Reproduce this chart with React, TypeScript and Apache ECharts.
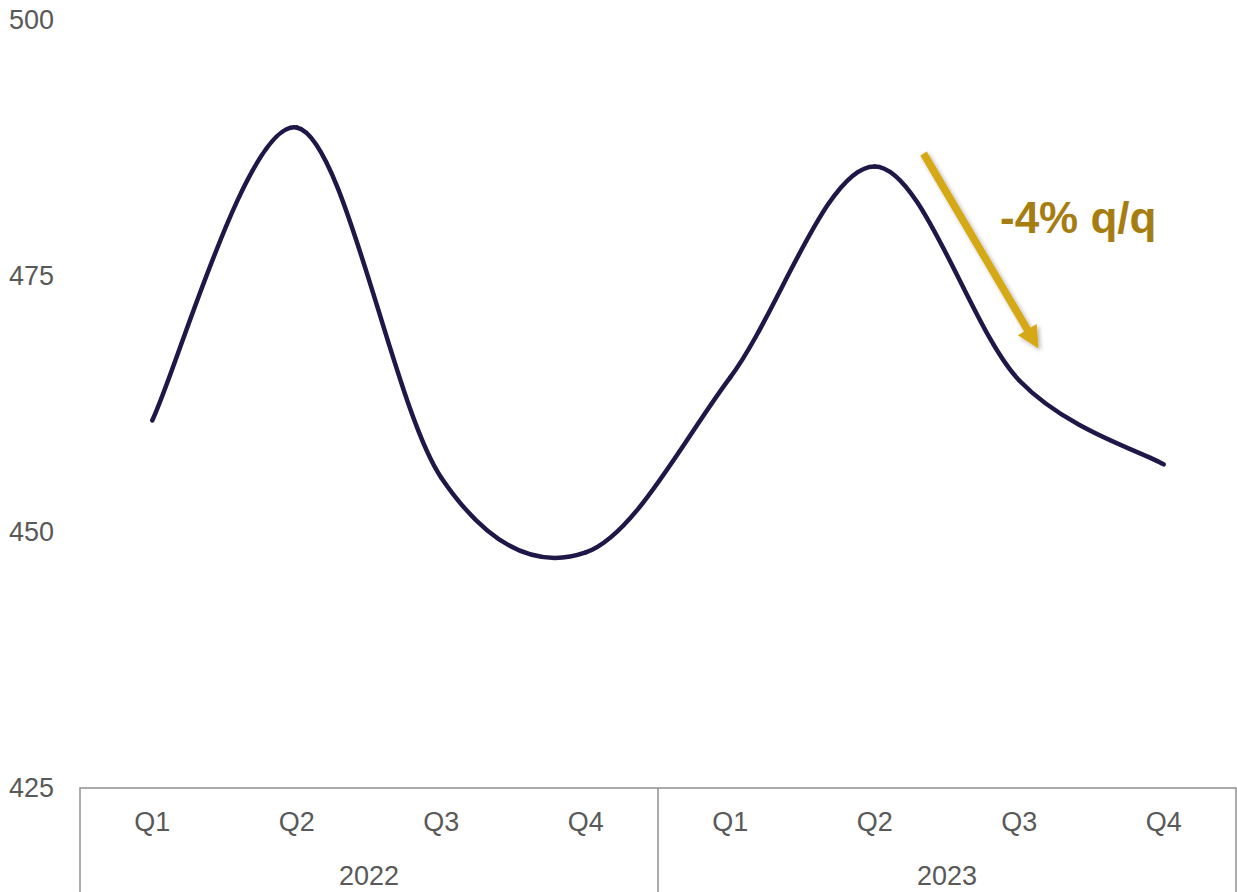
import React, { useEffect, useRef } from "react";
import * as echarts from "echarts";

// Quarterly values, two years
const quarters = ["Q1", "Q2", "Q3", "Q4", "Q1", "Q2", "Q3", "Q4"];
const years = ["2022", "2023"];
const values = [460.9, 489.5, 455.3, 448.0, 465.1, 485.7, 464.8, 456.6];

// Value axis range
const yMin = 425;
const yMax = 500;
const yStep = 25;

// Annotation
const noteText = "-4% q/q";

const FONT = "'Liberation Sans', Arial, sans-serif";
const AXIS_GRAY = "#8f8f8f";
const LABEL_GRAY = "#595959";
const LINE_COLOR = "#1f1747";
const ARROW_COLOR = "#d5a817";
const NOTE_COLOR = "#a67d10";

function arrowPoints(tail: number[], tip: number[], shaftHalf: number, headHalf: number, headLen: number) {
  const dx = tip[0] - tail[0];
  const dy = tip[1] - tail[1];
  const len = Math.hypot(dx, dy);
  const ux = dx / len;
  const uy = dy / len;
  const nx = -uy;
  const ny = ux;
  const bx = tip[0] - ux * headLen;
  const by = tip[1] - uy * headLen;
  return [
    [tail[0] + nx * shaftHalf, tail[1] + ny * shaftHalf],
    [bx + nx * shaftHalf, by + ny * shaftHalf],
    [bx + nx * headHalf, by + ny * headHalf],
    [tip[0], tip[1]],
    [bx - nx * headHalf, by - ny * headHalf],
    [bx - nx * shaftHalf, by - ny * shaftHalf],
    [tail[0] - nx * shaftHalf, tail[1] - ny * shaftHalf],
  ];
}

// Smoothed line: each segment is a cubic Bezier whose control points follow
// the Catmull-Rom tangents (one sixth of the neighbour-to-neighbour vector).
function renderSmoothSegment(params: any, api: any) {
  const i = params.dataIndex;
  const n = values.length;
  if (i >= n - 1) return null;
  const pts = values.map((v, j) => api.coord([j, v]));
  const p0 = pts[Math.max(i - 1, 0)];
  const p1 = pts[i];
  const p2 = pts[i + 1];
  const p3 = pts[Math.min(i + 2, n - 1)];
  return {
    type: "bezierCurve",
    shape: {
      x1: p1[0],
      y1: p1[1],
      x2: p2[0],
      y2: p2[1],
      cpx1: p1[0] + (p2[0] - p0[0]) / 6,
      cpy1: p1[1] + (p2[1] - p0[1]) / 6,
      cpx2: p2[0] - (p3[0] - p1[0]) / 6,
      cpy2: p2[1] - (p3[1] - p1[1]) / 6,
    },
    style: {
      stroke: LINE_COLOR,
      lineWidth: 4.5,
      fill: "none",
      lineCap: "round",
    },
  };
}

export default function App() {
  const ref = useRef<HTMLDivElement>(null);

  useEffect(() => {
    if (!ref.current) return;
    const chart = echarts.init(ref.current, undefined, { renderer: "svg" });
    chart.setOption({
      animation: false,
      backgroundColor: "#ffffff",
      grid: { left: 80, right: 1, top: 20, bottom: 104, containLabel: false },
      xAxis: [
        {
          type: "category",
          data: quarters,
          boundaryGap: true,
          position: "bottom",
          axisLine: { show: true, lineStyle: { color: AXIS_GRAY, width: 1.5 } },
          axisTick: { show: false },
          axisLabel: {
            color: LABEL_GRAY,
            fontFamily: FONT,
            fontSize: 27,
            margin: 20,
            interval: 0,
          },
          splitLine: { show: false },
        },
        {
          type: "category",
          data: years,
          boundaryGap: true,
          position: "bottom",
          axisLine: { show: false },
          axisTick: {
            show: true,
            length: 110,
            lineStyle: { color: AXIS_GRAY, width: 1.5 },
          },
          axisLabel: {
            color: LABEL_GRAY,
            fontFamily: FONT,
            fontSize: 27,
            margin: 74,
            interval: 0,
          },
          splitLine: { show: false },
        },
      ],
      yAxis: {
        type: "value",
        min: yMin,
        max: yMax,
        interval: yStep,
        axisLine: { show: false },
        axisTick: { show: false },
        splitLine: { show: false },
        axisLabel: {
          color: LABEL_GRAY,
          fontFamily: FONT,
          fontSize: 27,
          margin: 26,
        },
      },
      series: [
        {
          type: "custom",
          coordinateSystem: "cartesian2d",
          xAxisIndex: 0,
          yAxisIndex: 0,
          data: values.map((v, i) => [i, v]),
          encode: { x: 0, y: 1 },
          renderItem: renderSmoothSegment,
          silent: true,
        },
      ],
      graphic: [
        {
          type: "polygon",
          shape: { points: arrowPoints([923.5, 153.5], [1038.5, 348.5], 3.8, 11, 22) },
          style: {
            fill: ARROW_COLOR,
            shadowBlur: 4,
            shadowColor: "rgba(0,0,0,0.3)",
            shadowOffsetX: 2,
            shadowOffsetY: 2,
          },
          z: 10,
        },
        {
          type: "text",
          x: 1000,
          y: 217,
          style: {
            text: noteText,
            fill: NOTE_COLOR,
            font: `bold 44px ${FONT}`,
            textVerticalAlign: "middle",
            textAlign: "left",
          },
          z: 10,
        },
      ],
    });
    return () => chart.dispose();
  }, []);

  return (
    <div
      ref={ref}
      style={{ position: "fixed", left: 0, top: 0, width: 1237, height: 892, background: "#fff" }}
    />
  );
}
